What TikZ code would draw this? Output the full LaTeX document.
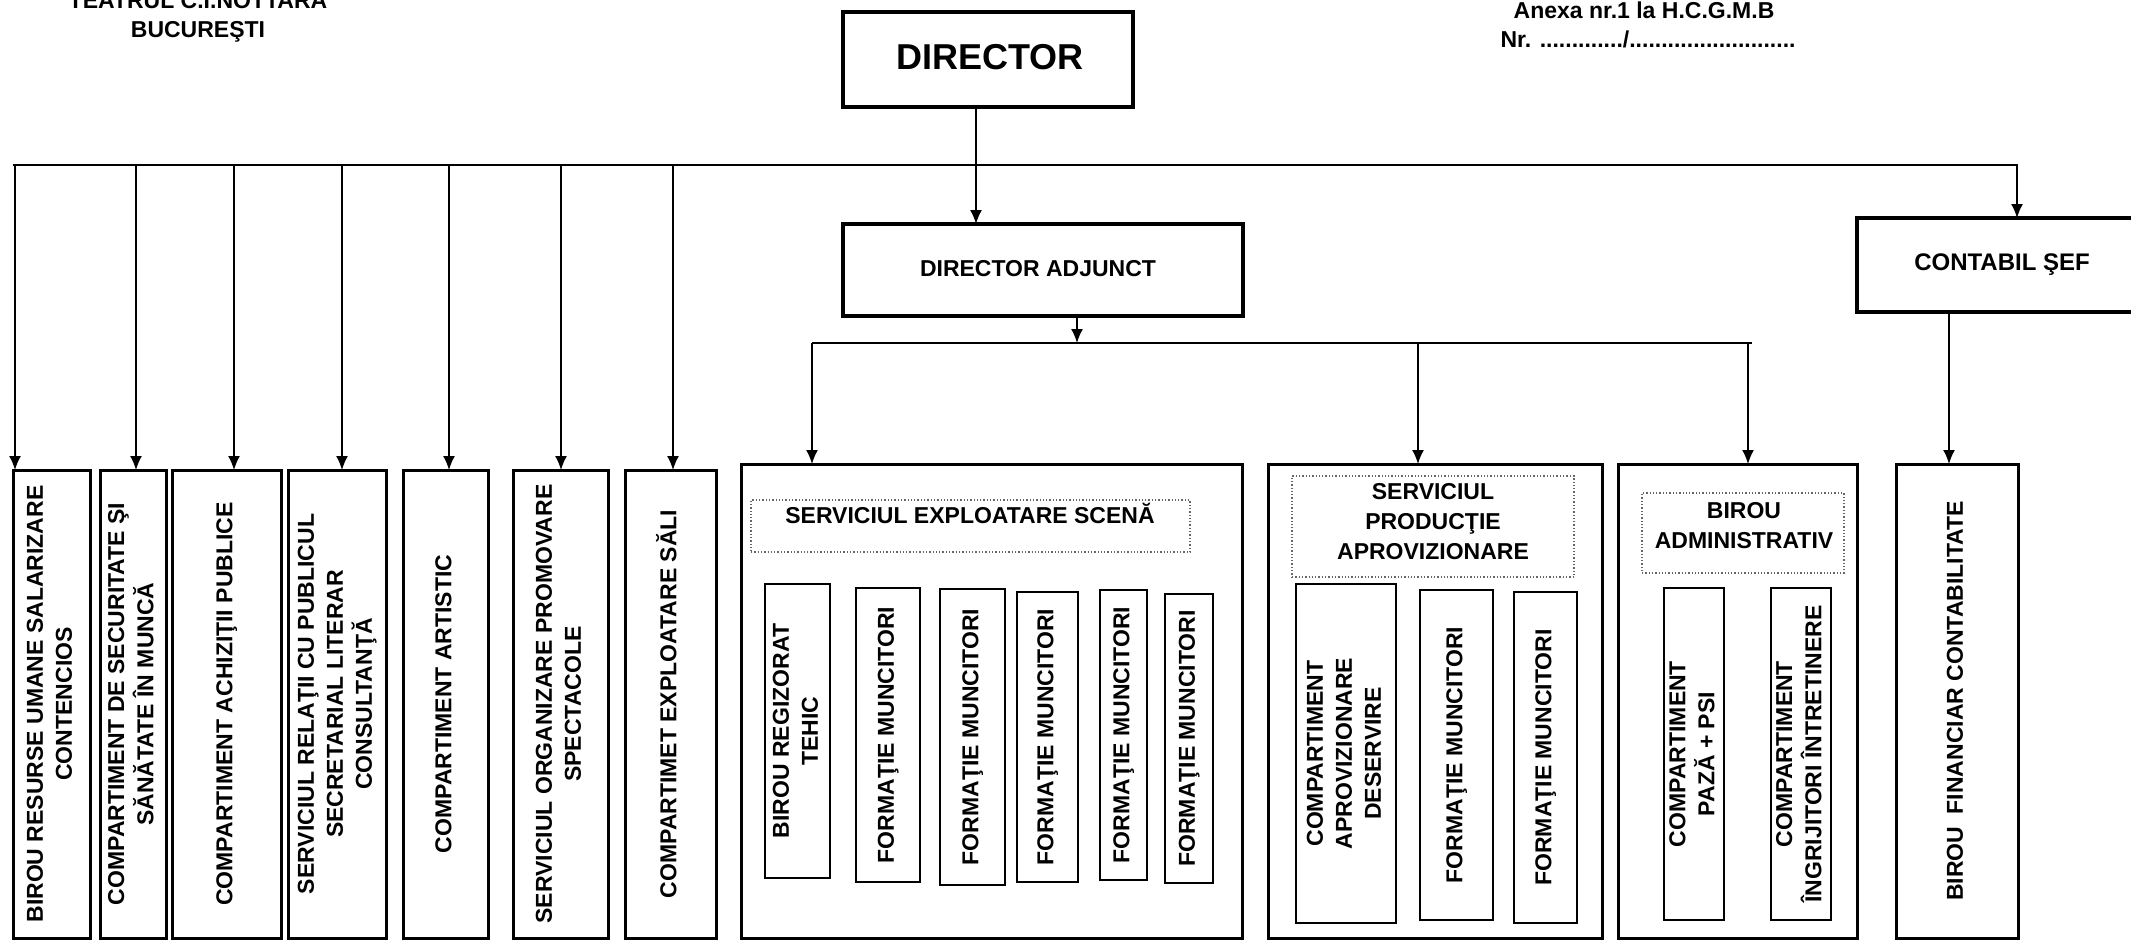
\documentclass[tikz,border=0pt]{standalone}
\usepackage{fontspec}
\setmainfont{Liberation Sans}
\usepackage{graphicx}
\usetikzlibrary{arrows.meta}
\newcommand{\myvert}[1]{\rotatebox{90}{\begin{tabular}{@{}c@{}}#1\end{tabular}}}
\newcommand{\myfs}[2]{\fontsize{#1}{#2}\selectfont\bfseries}
\begin{document}
\begin{tikzpicture}[x=1pt,y=-1pt,
  every node/.style={inner sep=0pt, outer sep=0pt},
  tbox/.style={draw, line width=3.6pt, rectangle},
  obox/.style={draw, line width=3pt, rectangle, font=\myfs{23}{29}},
  ibox/.style={draw, line width=1.8pt, rectangle, font=\myfs{23}{29}},
  dbox/.style={draw=black!60, dotted, line width=1.3pt, rectangle},
  lbl/.style={font=\myfs{23}{30}, align=center},
  conn/.style={line width=1.6pt},
  arr/.style={conn, -{Latex[length=14pt,width=12pt]}}]
\useasboundingbox (0,0) rectangle (2131,940);
\fill[white] (0,0) rectangle (2131,940);

% header texts
\node[lbl, anchor=base] (teatru) at (198,8) {TEATRUL C.I.NOTTARA};
\node[lbl, anchor=base] (buc) at (198,37) {BUCUREŞTI};
\node[lbl, anchor=base] (anexa) at (1644,18) {Anexa nr.1 la H.C.G.M.B};
\node[lbl, anchor=base] (nr) at (1648,47) {Nr. ............./..........................};

% top boxes
\node[tbox, minimum width=290pt, minimum height=95pt] (dir) at (988,59.5) {};
\node[font=\myfs{36}{40}] (dirt) at (990,57) {DIRECTOR};
\node[tbox, minimum width=400pt, minimum height=92pt] (dadj) at (1043,270) {};
\node[font=\myfs{23}{28}] (dadjt) at (1038,269) {DIRECTOR ADJUNCT};
\node[tbox, minimum width=282pt, minimum height=94pt] (cs) at (1998,265) {};
\node[font=\myfs{24}{28}] (cst) at (2002,265) {CONTABIL ŞEF};

% left column boxes
\node[obox, minimum width=77pt, minimum height=468pt] (b1) at (51.5,704) {\myvert{BIROU RESURSE UMANE SALARIZARE\\CONTENCIOS}};
\node[obox, minimum width=66pt, minimum height=468pt] (b2) at (133,704) {\myvert{COMPARTIMENT DE SECURITATE ŞI\\SĂNĂTATE ÎN MUNCĂ}};
\node[obox, minimum width=109pt, minimum height=468pt] (b3) at (226.5,704) {\myvert{COMPARTIMENT ACHIZIŢII PUBLICE}};
\node[obox, minimum width=98pt, minimum height=468pt] (b4) at (337,704) {\myvert{SERVICIUL RELAŢII CU PUBLICUL\\SECRETARIAL LITERAR\\CONSULTANŢĂ}};
\node[obox, minimum width=85pt, minimum height=468pt] (b5) at (445.5,704) {\myvert{COMPARTIMENT ARTISTIC}};
\node[obox, minimum width=95pt, minimum height=468pt] (b6) at (560.5,704) {\myvert{SERVICIUL ORGANIZARE PROMOVARE\\SPECTACOLE}};
\node[obox, minimum width=91pt, minimum height=468pt] (b7) at (670.5,704) {\myvert{COMPARTIMET EXPLOATARE SĂLI}};

% big boxes
\node[obox, minimum width=501pt, minimum height=474pt] (ses) at (991.5,701) {};
\node[obox, minimum width=334pt, minimum height=474pt] (spa) at (1435,701) {};
\node[obox, minimum width=239pt, minimum height=474pt] (ba) at (1737.5,701) {};
\node[obox, minimum width=122pt, minimum height=474pt] (bf) at (1957,701) {\myvert{BIROU\ \ FINANCIAR CONTABILITATE}};

% SES content
\node[dbox, minimum width=439pt, minimum height=52pt] (sesd) at (970.5,526) {};
\node[lbl, anchor=base] (sest) at (970,523) {SERVICIUL EXPLOATARE SCENĂ};
\node[ibox, minimum width=65pt, minimum height=294pt] (s1) at (797.5,731) {\myvert{BIROU REGIZORAT\\TEHIC}};
\node[ibox, minimum width=64pt, minimum height=294pt] (s2) at (888,735) {\myvert{FORMAŢIE MUNCITORI}};
\node[ibox, minimum width=65pt, minimum height=296pt] (s3) at (972.5,737) {\myvert{FORMAŢIE MUNCITORI}};
\node[ibox, minimum width=61pt, minimum height=290pt] (s4) at (1047.5,737) {\myvert{FORMAŢIE MUNCITORI}};
\node[ibox, minimum width=47pt, minimum height=290pt] (s5) at (1123.5,735) {\myvert{FORMAŢIE MUNCITORI}};
\node[ibox, minimum width=48pt, minimum height=289pt] (s6) at (1189,738.5) {\myvert{FORMAŢIE MUNCITORI}};

% SPA content
\node[dbox, minimum width=282pt, minimum height=101pt] (spad) at (1433,526.5) {};
\node[lbl] (spat) at (1433,522) {SERVICIUL\\PRODUCŢIE\\APROVIZIONARE};
\node[ibox, minimum width=100pt, minimum height=339pt] (p1) at (1346,753.5) {\myvert{COMPARTIMENT\\APROVIZIONARE\\DESERVIRE}};
\node[ibox, minimum width=73pt, minimum height=330pt] (p2) at (1456.5,755) {\myvert{FORMAŢIE MUNCITORI}};
\node[ibox, minimum width=63pt, minimum height=331pt] (p3) at (1545.5,757.5) {\myvert{FORMAŢIE MUNCITORI}};

% BA content
\node[dbox, minimum width=202pt, minimum height=80pt] (bad) at (1743,533) {};
\node[lbl] (bat) at (1744,526) {BIROU\\ADMINISTRATIV};
\node[ibox, minimum width=60pt, minimum height=332pt] (a1) at (1694,754) {\myvert{COMPARTIMENT\\PAZĂ + PSI}};
\node[ibox, minimum width=60pt, minimum height=332pt] (a2) at (1801,754) {\myvert{COMPARTIMENT\\ÎNGRIJITORI ÎNTRETINERE}};

% connectors
\coordinate (busL) at (13,165);
\coordinate (busR) at (2018,165);
\draw[conn] (busL) -- (busR);
\coordinate (k1) at (15,165);
\coordinate (k2) at (136,165);
\coordinate (k3) at (234,165);
\coordinate (k4) at (342,165);
\coordinate (k5) at (449,165);
\coordinate (k6) at (561,165);
\coordinate (k7) at (673,165);
\coordinate (kc) at (2017,165);
\coordinate (kd) at (976,165);
\draw[arr] (k1) -- (k1 |- b1.north);
\draw[arr] (k2) -- (k2 |- b2.north);
\draw[arr] (k3) -- (k3 |- b3.north);
\draw[arr] (k4) -- (k4 |- b4.north);
\draw[arr] (k5) -- (k5 |- b5.north);
\draw[arr] (k6) -- (k6 |- b6.north);
\draw[arr] (k7) -- (k7 |- b7.north);
\draw[arr] (kc) -- (kc |- cs.north);
\draw[arr] (kd |- dir.south) -- (kd |- dadj.north);

\coordinate (dj) at (1077,343);
\draw[arr] (dj |- dadj.south) -- (dj);
\coordinate (m1) at (812,343);
\coordinate (m2) at (1418,343);
\coordinate (m3) at (1752,343);
\coordinate (m3a) at (1748,343);
\draw[conn] (m1) -- (m3);
\draw[arr] (m1) -- (m1 |- ses.north);
\draw[arr] (m2) -- (m2 |- spa.north);
\draw[arr] (m3a) -- (m3a |- ba.north);

\coordinate (cf) at (1949,400);
\draw[arr] (cf |- cs.south) -- (cf |- bf.north);
\end{tikzpicture}
\end{document}
